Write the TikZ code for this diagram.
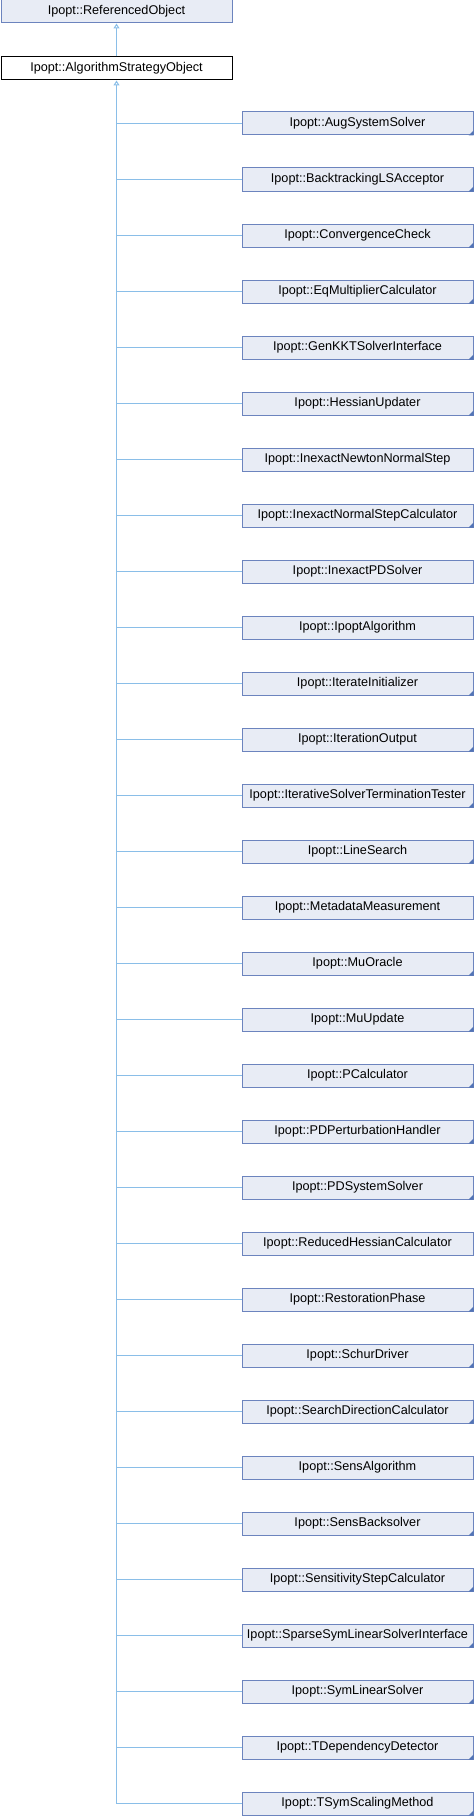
\documentclass[tikz,border=0pt]{standalone}
\usepackage{fontspec}
\setmainfont{Liberation Sans}
\usetikzlibrary{arrows.meta, calc}

\definecolor{boxfill}{RGB}{232,236,245}
\definecolor{boxline}{RGB}{108,132,190}
\definecolor{edgeblue}{RGB}{138,190,232}
\definecolor{cornerblue}{RGB}{82,116,182}

\tikzset{
  classbox/.style={draw=boxline, fill=boxfill, line width=0.75pt,
    minimum width=173.25pt, minimum height=17.25pt, inner sep=0pt,
    font=\fontsize{9.5}{11}\selectfont},
  basebox/.style={classbox, draw=black, fill=white},
  edge/.style={draw=edgeblue, line width=0.75pt},
  inherit/.style={edge, -{Triangle[open, length=3.75pt, width=4.5pt]}}
}

\begin{document}
\begin{tikzpicture}[x=0.75pt, y=-0.75pt]
    \useasboundingbox (0,0) rectangle (474,1816);

    % base classes
    \node[classbox] (ref) at (116.5, 11.5) {Ipopt::ReferencedObject};
    \node[basebox] (algo) at (116.5, 68.5) {Ipopt::AlgorithmStrategyObject};
    \draw[inherit] (algo.north) -- (ref.south);

    % derived classes, 1 = has a corner mark
    \foreach \name/\more [count=\i] in {
        AugSystemSolver/1, BacktrackingLSAcceptor/1, ConvergenceCheck/1,
        EqMultiplierCalculator/1, GenKKTSolverInterface/1, HessianUpdater/1,
        InexactNewtonNormalStep/0, InexactNormalStepCalculator/1,
        InexactPDSolver/0, IpoptAlgorithm/0, IterateInitializer/1,
        IterationOutput/1, IterativeSolverTerminationTester/1, LineSearch/1,
        MetadataMeasurement/0, MuOracle/1, MuUpdate/1, PCalculator/1,
        PDPerturbationHandler/1, PDSystemSolver/1, ReducedHessianCalculator/0,
        RestorationPhase/1, SchurDriver/1, SearchDirectionCalculator/1,
        SensAlgorithm/0, SensBacksolver/1, SensitivityStepCalculator/1,
        SparseSymLinearSolverInterface/1, SymLinearSolver/1,
        TDependencyDetector/1, TSymScalingMethod/1} {
        \node[classbox] (c\i) at (357.5, {123.5+56*(\i-1)}) {Ipopt::\name};
        \draw[edge] (algo.south |- c\i.west) -- (c\i.west);
        \ifnum\more=1
            \fill[cornerblue] ($(c\i.south east)+(-5,0)$) -- (c\i.south east)
                -- ($(c\i.south east)+(0,-5)$) -- cycle;
        \fi
    }

    \draw[inherit] (algo.south |- c31.west) -- (algo.south);
\end{tikzpicture}
\end{document}
